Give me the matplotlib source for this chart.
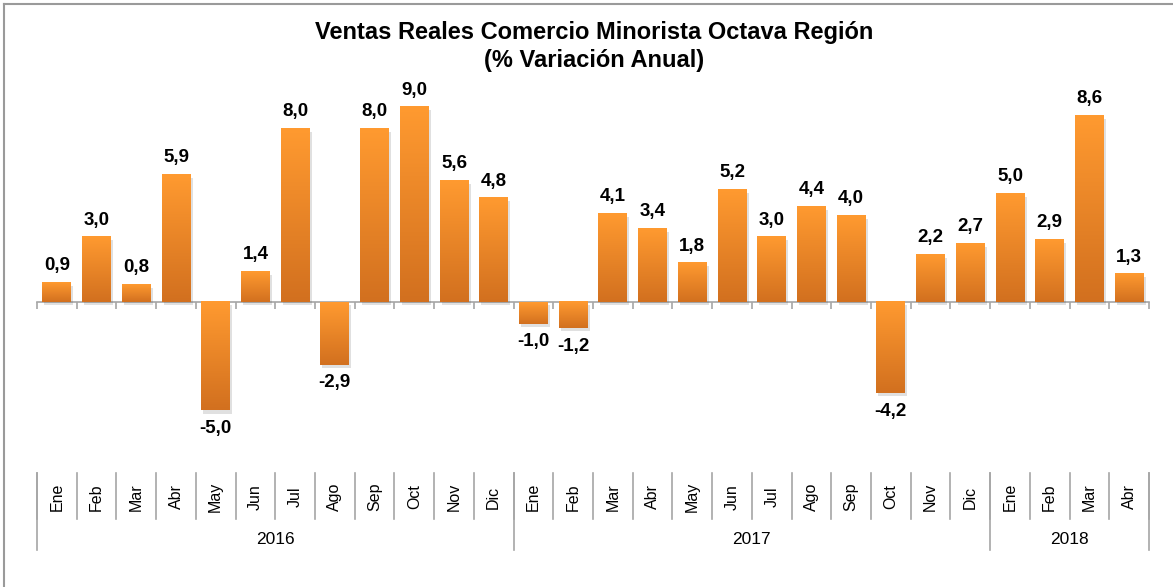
import matplotlib; matplotlib.use("Agg")
import matplotlib.pyplot as plt
import matplotlib.patheffects as pe
from matplotlib.colors import LinearSegmentedColormap
from matplotlib.lines import Line2D
import numpy as np

plt.rcParams["font.family"] = ["Liberation Sans", "DejaVu Sans"]

years = ["2016", "2017", "2018"]
months_per_year = [12, 12, 4]
months = ["Ene", "Feb", "Mar", "Abr", "May", "Jun", "Jul", "Ago", "Sep", "Oct", "Nov", "Dic",
          "Ene", "Feb", "Mar", "Abr", "May", "Jun", "Jul", "Ago", "Sep", "Oct", "Nov", "Dic",
          "Ene", "Feb", "Mar", "Abr"]
values = [0.9, 3.0, 0.8, 5.9, -5.0, 1.4, 8.0, -2.9, 8.0, 9.0, 5.6, 4.8,
          -1.0, -1.2, 4.1, 3.4, 1.8, 5.2, 3.0, 4.4, 4.0, -4.2, 2.2, 2.7,
          5.0, 2.9, 8.6, 1.3]

W, H = 1173, 587
GRID = "#A6A6A6"
cmap = LinearSegmentedColormap.from_list("org", ["#D2701F", "#FF9A30"])

fig = plt.figure(figsize=(W / 100, H / 100), dpi=100)
fig.patch.set_facecolor("white")

# main bar area (pixel layout: x 37..1149, y 60..460 from top, zero at 302)
px_unit = 21.67
ax = fig.add_axes([37 / W, (H - 460) / H, 1112 / W, 400 / H])
ylim = (-(460 - 302) / px_unit, (302 - 60) / px_unit)

x = np.arange(len(values))
bars = ax.bar(x, values, width=0.73, color="#E8852A", zorder=2,
              path_effects=[pe.SimplePatchShadow(offset=(1.5, -2.5), alpha=0.18, shadow_rgbFace="#555555"),
                            pe.Normal()])
grad = np.linspace(0, 1, 100).reshape(-1, 1)
for b in bars:
    x0, y0, bw, bh = b.get_x(), b.get_y(), b.get_width(), b.get_height()
    lo, hi = min(y0, y0 + bh), max(y0, y0 + bh)
    ax.imshow(grad, extent=(x0, x0 + bw, lo, hi), origin="lower", cmap=cmap,
              aspect="auto", zorder=3, interpolation="bilinear")
ax.set_xlim(-0.5, len(values) - 0.5)
ax.set_ylim(*ylim)

for xi, v in zip(x, values):
    off = 12 if v >= 0 else -13
    ax.annotate(f"{v:.1f}".replace(".", ","), (xi, v), xytext=(0, off), textcoords="offset points",
                ha="center", va="center", fontsize=13.5, fontweight="bold", color="#000000")

for s in ["top", "right", "left"]:
    ax.spines[s].set_visible(False)
ax.spines["bottom"].set_position(("data", 0))
ax.spines["bottom"].set_color(GRID)
ax.spines["bottom"].set_linewidth(1.2)
ax.spines["bottom"].set_zorder(1)
ax.set_xticks(np.arange(len(values) + 1) - 0.5)
ax.set_xticklabels([])
ax.tick_params(axis="x", length=5, color=GRID, width=1.2)
ax.set_yticks([])
ax.patch.set_alpha(0)

# category axis (months + years), y in pixels from top
ax2 = fig.add_axes([37 / W, 0, 1112 / W, (H - 465) / H])
ax2.set_xlim(-0.5, len(values) - 0.5)
ax2.set_ylim(H, 465)
ax2.axis("off")
for k in range(len(values) + 1):
    ax2.plot([k - 0.5, k - 0.5], [473, 519], color=GRID, lw=1.2, clip_on=False)
for xi, m in zip(x, months):
    ax2.text(xi, 497, m, rotation=90, ha="center", va="center", fontsize=11.5, color="#000000")
start = 0
for yr, n in zip(years, months_per_year):
    ax2.plot([start - 0.5, start - 0.5], [473, 550], color=GRID, lw=1.2, clip_on=False)
    ax2.text(start + (n - 1) / 2, 540, yr, ha="center", va="center", fontsize=12.5, color="#000000")
    start += n
ax2.plot([start - 0.5, start - 0.5], [473, 550], color=GRID, lw=1.2, clip_on=False)

# title
fig.text(594 / W, 1 - 33 / H, "Ventas Reales Comercio Minorista Octava Región",
         ha="center", va="center", fontsize=17, fontweight="bold")
fig.text(594 / W, 1 - 60 / H, "(% Variación Anual)",
         ha="center", va="center", fontsize=17, fontweight="bold")

# outer border (top and left visible)
fig.add_artist(Line2D([4 / W, 4 / W], [0, 1 - 4 / H], color="#9A9A9A", lw=1.5))
fig.add_artist(Line2D([4 / W, 1], [1 - 4 / H, 1 - 4 / H], color="#9A9A9A", lw=1.5))

fig.savefig("out.png", dpi=100)
